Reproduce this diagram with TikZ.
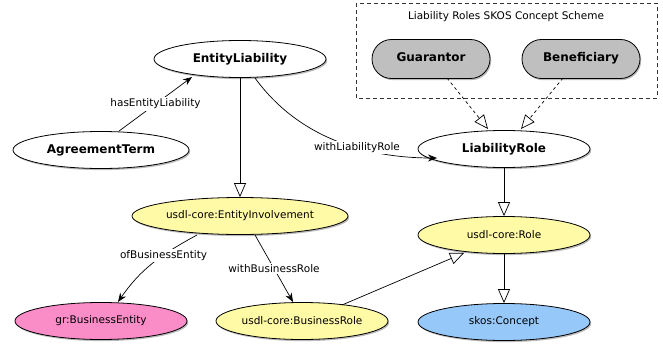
\documentclass[tikz,border=0pt]{standalone}
\usepackage{fontspec}
\setmainfont{DejaVu Sans}
\usetikzlibrary{arrows.meta,shapes.geometric,shapes.misc,shadows}
\begin{document}
\begin{tikzpicture}[x=1pt,y=-1pt,
  nodeshadow/.style={drop shadow={shadow xshift=1.2pt, shadow yshift=-1.6pt, fill=black!45, opacity=0.6}},
  cls/.style={ellipse, draw=black, line width=0.8pt, inner sep=0pt,
    minimum width=172pt, minimum height=37pt, font=\fontsize{10.5}{12}\selectfont, nodeshadow},
  main/.style={cls, fill=white, font=\fontsize{12}{14}\selectfont\bfseries},
  yel/.style={cls, fill=yellow!35!white},
  concept/.style={rounded rectangle, rounded rectangle arc length=180,
    draw=black, line width=0.8pt, fill=black!25,
    minimum width=122pt, text height=9pt, text depth=3pt, inner ysep=13.5pt, inner xsep=2pt,
    font=\fontsize{12}{14}\selectfont\bfseries, nodeshadow},
  rel/.style={draw=black, line width=0.7pt, -{Stealth[length=9pt,width=7pt]}},
  isa/.style={draw=black, line width=0.7pt, -{Triangle[open,length=14pt,width=12pt]}},
  inst/.style={isa, dashed},
  lbl/.style={fill=white, inner sep=1.5pt, font=\fontsize{10.5}{12}\selectfont}
]
\useasboundingbox (0,0) rectangle (663,353);

% concept scheme frame
\draw[dash pattern=on 4pt off 3pt, line width=0.7pt, black!80] (356,3) rectangle (657,98);
\node[font=\fontsize{10.5}{12}\selectfont] (scheme) at (506,17) {Liability Roles SKOS Concept Scheme};

% classes
\node[main] (el) at (240,59) {EntityLiability};
\node[main, minimum width=176pt] (at) at (101,150) {AgreementTerm};
\node[main] (lr) at (504,149) {LiabilityRole};
\node[yel, minimum width=216pt] (ei) at (240,216) {usdl-core:EntityInvolvement};
\node[cls, fill={rgb,255:red,250;green,140;blue,200}] (be) at (101,321) {gr:BusinessEntity};
\node[yel] (br) at (302,321) {usdl-core:BusinessRole};
\node[yel] (role) at (504,235) {usdl-core:Role};
\node[cls, fill={rgb,255:red,150;green,200;blue,250}] (sc) at (504,322) {skos:Concept};

% concepts of the scheme
\node[concept] (gu) at (431,59) {Guarantor};
\node[concept] (bf) at (581,59) {Beneficiary};

% properties
\draw[rel] (at.north) ++(18,0) coordinate (atS) -- node[lbl, pos=0.5] {hasEntityLiability} (192,77);
\draw[rel] (255,78) .. controls (300,140) and (370,158) .. node[lbl, pos=0.6] {withLiabilityRole} (437,158);
\draw[rel] (197,235) .. controls (160,255) and (140,270) .. node[lbl, pos=0.35] {ofBusinessEntity} (118,302);
\draw[rel] (255,235) -- node[lbl, pos=0.5] {withBusinessRole} (293,302);

% subclass links
\draw[isa] (el.south) -- (ei.north);
\draw[isa] (lr.south) -- (role.north);
\draw[isa] (role.south) -- (sc.north);
\draw[isa] (342,305) -- (464,253);

% instance links
\draw[inst] (447,78) -- (488,129);
\draw[inst] (563,78) -- (521,129);
\end{tikzpicture}
\end{document}
